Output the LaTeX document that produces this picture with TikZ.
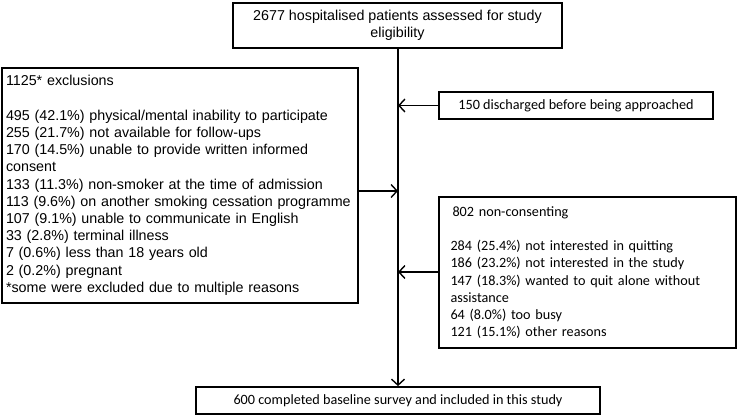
\documentclass[tikz,border=0pt]{standalone}
\usepackage{fontspec}
\setmainfont{Liberation Sans}
\newfontfamily\calib{Carlito}
\usetikzlibrary{arrows.meta}
\begin{document}
\begin{tikzpicture}[x=1pt,y=-1pt,
  box/.style={draw, line width=1.8pt, inner sep=0pt},
  arialtxt/.style={font=\fontsize{14.3}{17.2}\selectfont},
  calibtxt/.style={font=\calib\fontsize{14.2}{17.2}\selectfont},
  conn/.style={line width=1.4pt, -{Straight Barb[length=6pt,width=13pt,line width=1.4pt]}}
]
\useasboundingbox (0,0) rectangle (738,417);
\node[box, arialtxt, minimum width=329pt, minimum height=45pt, align=center] (top) at (397.5,25.5)
  {2677 hospitalised patients assessed for study\\eligibility};
\node[box, calibtxt, minimum width=274pt, minimum height=27pt] (disch) at (576,105.5)
  {150 discharged before being approached};
\node[box, arialtxt, minimum width=356pt, minimum height=235pt, text width=348pt, align=left] (excl) at (180,185.5)
  {\hyphenpenalty=10000 1125* exclusions\\[17.2pt]
   495 (42.1\%) physical/mental inability to participate\\
   255 (21.7\%) not available for follow-ups\\
   170 (14.5\%) unable to provide written informed\\
   consent\\
   133 (11.3\%) non-smoker at the time of admission\\
   113 (9.6\%) on another smoking cessation programme\\
   107 (9.1\%) unable to communicate in English\\
   33 (2.8\%) terminal illness\\
   7 (0.6\%) less than 18 years old\\
   2 (0.2\%) pregnant\\\relax
   *some were excluded due to multiple reasons};
\node[box, calibtxt, minimum width=297pt, minimum height=151pt, text width=274pt, align=left] (nonc) at (587.5,272.5)
  {\hspace{2pt}802 non-consenting\\[17.2pt]
   284 (25.4\%) not interested in quitting\\
   186 (23.2\%) not interested in the study\\
   147 (18.3\%) wanted to quit alone without\\
   assistance\\
   64 (8.0\%) too busy\\
   121 (15.1\%) other reasons};
\node[box, calibtxt, minimum width=404pt, minimum height=27pt] (final) at (398,400.5)
  {600 completed baseline survey and included in this study};
\coordinate (j1) at (398,105.5);
\coordinate (j2) at (398,191);
\coordinate (j3) at (398,272);
\draw[conn] (top.south -| final.north) -- (final.north);
\draw[conn] (disch.west) -- (j1);
\draw[conn] (excl.east |- j2) -- (j2);
\draw[conn] (nonc.west |- j3) -- (j3);
\end{tikzpicture}
\end{document}
